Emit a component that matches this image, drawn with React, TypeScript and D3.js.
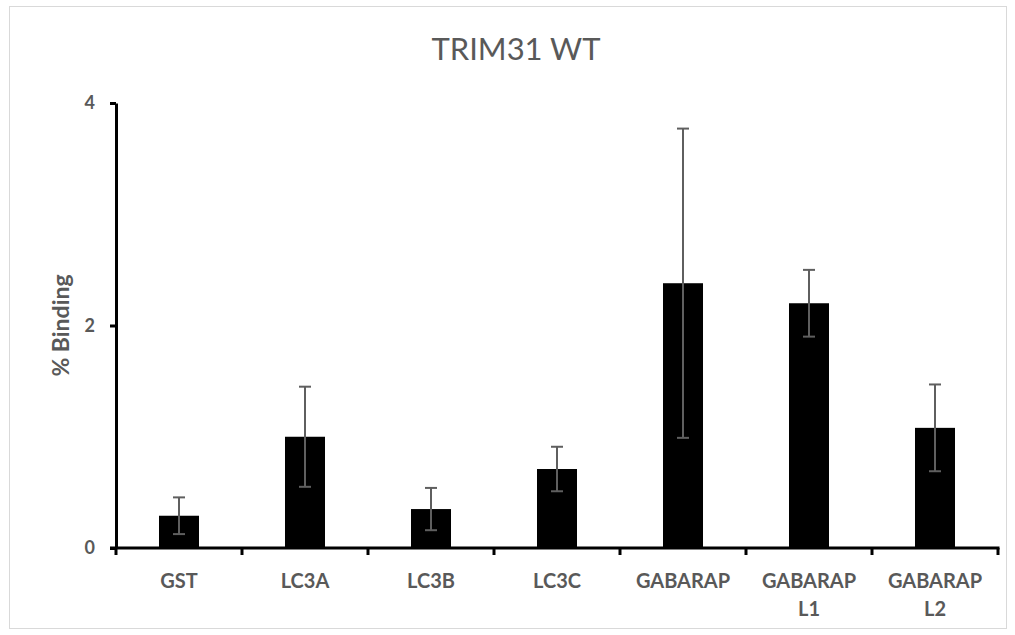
import React, { useEffect, useRef } from 'react';
import * as d3 from 'd3';

// Data
const categories = ['GST', 'LC3A', 'LC3B', 'LC3C', 'GABARAP', 'GABARAP L1', 'GABARAP L2'];
const binding = [0.29, 1.0, 0.35, 0.71, 2.38, 2.2, 1.08];
const errors = [0.165, 0.45, 0.19, 0.2, 1.39, 0.3, 0.39];
const yTicks = [0, 2, 4];

const App = () => {
  const ref = useRef<HTMLDivElement>(null);

  useEffect(() => {
    const width = 1015;
    const height = 635;
    const margin = { top: 103, right: 17, bottom: 87, left: 116 };
    const textColor = '#595959';
    const font = 'Lato, "Open Sans", sans-serif';

    d3.select(ref.current).selectAll('*').remove();

    const svg = d3.select(ref.current)
      .append('svg')
      .attr('width', width)
      .attr('height', height)
      .style('display', 'block');

    svg.append('rect')
      .attr('width', width)
      .attr('height', height)
      .attr('fill', '#fff');

    // chart area border
    svg.append('rect')
      .attr('x', 9.5)
      .attr('y', 6.5)
      .attr('width', 997)
      .attr('height', 622)
      .attr('fill', 'none')
      .attr('stroke', '#d9d9d9')
      .attr('stroke-width', 1);

    const x = d3.scaleBand()
      .domain(categories)
      .range([margin.left, width - margin.right])
      .paddingInner(0.6825)
      .paddingOuter(0.6825 / 2);

    const y = d3.scaleLinear()
      .domain([0, 4])
      .range([height - margin.bottom, margin.top]);

    // Title
    svg.append('text')
      .attr('x', 516)
      .attr('y', 60)
      .attr('text-anchor', 'middle')
      .attr('font-family', font)
      .attr('font-size', 31)
      .attr('fill', textColor)
      .text('TRIM31 WT');

    // Bars
    svg.selectAll('.bar')
      .data(categories)
      .enter()
      .append('rect')
      .attr('class', 'bar')
      .attr('x', d => x(d)!)
      .attr('y', (d, i) => y(binding[i]))
      .attr('width', x.bandwidth())
      .attr('height', (d, i) => y(0) - y(binding[i]))
      .attr('fill', '#000');

    // Error bars
    const err = svg.append('g')
      .attr('stroke', '#5f5f5f')
      .attr('stroke-width', 2);
    categories.forEach((c, i) => {
      const cx = x(c)! + x.bandwidth() / 2;
      const hi = y(binding[i] + errors[i]);
      const lo = y(binding[i] - errors[i]);
      err.append('line').attr('x1', cx).attr('x2', cx).attr('y1', hi).attr('y2', lo);
      err.append('line').attr('x1', cx - 6).attr('x2', cx + 6).attr('y1', hi).attr('y2', hi);
      err.append('line').attr('x1', cx - 6).attr('x2', cx + 6).attr('y1', lo).attr('y2', lo);
    });

    // Y axis
    const yAxis = svg.append('g')
      .attr('transform', `translate(${margin.left},0)`)
      .call(d3.axisLeft(y).tickValues(yTicks).tickSize(6).tickSizeOuter(0).tickFormat(d3.format('d')));
    yAxis.select('.domain').attr('stroke', '#000').attr('stroke-width', 3);
    yAxis.selectAll('.tick line').attr('stroke', '#000').attr('stroke-width', 3);
    yAxis.selectAll('.tick text')
      .attr('x', -21)
      .attr('font-family', font)
      .attr('font-weight', 'bold')
      .attr('font-size', 18)
      .attr('fill', textColor);

    // X axis
    const xAxis = svg.append('g')
      .attr('transform', `translate(0,${height - margin.bottom})`);
    xAxis.append('line')
      .attr('x1', margin.left - 6)
      .attr('x2', width - margin.right + 1.5)
      .attr('stroke', '#000')
      .attr('stroke-width', 3);
    const step = x.step();
    d3.range(categories.length + 1).forEach(k => {
      const tx = margin.left + k * step;
      xAxis.append('line')
        .attr('x1', tx).attr('x2', tx)
        .attr('y1', 0).attr('y2', 7)
        .attr('stroke', '#000')
        .attr('stroke-width', 3);
    });

    // X labels (wrap long names)
    categories.forEach(c => {
      const cx = x(c)! + x.bandwidth() / 2;
      const lines = c.split(' ');
      const t = xAxis.append('text')
        .attr('text-anchor', 'middle')
        .attr('font-family', font)
        .attr('font-weight', 'bold')
        .attr('font-size', 20)
        .attr('fill', textColor);
      lines.forEach((ln, j) => {
        t.append('tspan')
          .attr('x', cx)
          .attr('y', 40 + j * 28)
          .text(ln);
      });
    });

    // Y axis title
    svg.append('text')
      .attr('transform', `translate(69,${y(2)}) rotate(-90)`)
      .attr('text-anchor', 'middle')
      .attr('font-family', font)
      .attr('font-weight', 'bold')
      .attr('font-size', 23)
      .attr('fill', textColor)
      .text('% Binding');
  }, []);

  return <div ref={ref} style={{ position: 'absolute', left: 0, top: 0 }}></div>;
};

export default App;
